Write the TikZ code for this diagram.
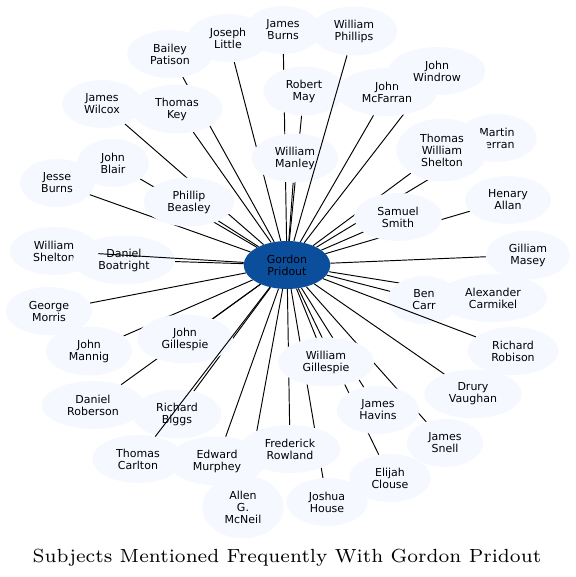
\documentclass[tikz,border=0pt]{standalone}
\usepackage{fontspec}
\usepackage{tikz}
\usetikzlibrary{shapes.geometric, backgrounds}
\newfontfamily\labelfont{DejaVu Sans}
\newfontfamily\titlefont{lmroman7-regular.otf}
\definecolor{hubblue}{RGB}{11,79,156}
\definecolor{paleblue}{RGB}{245,249,255}

\begin{document}
\begin{tikzpicture}[
        x=1pt, y=-1pt,
        person/.style={ellipse, fill=paleblue, align=center,
            font=\labelfont\fontsize{11}{12}\selectfont,
            inner xsep=10.5pt, inner ysep=6pt,
            minimum width=72pt, minimum height=48pt},
        hub/.style={person, fill=hubblue},
        link/.style={line width=0.95pt}
    ]
        \useasboundingbox (0,0) rectangle (575,577);
        \node[person] (jburns) at (283,30) {James\\Burns};
        \node[person] (wphillips) at (354,31) {William\\Phillips};
        \node[person] (jlittle) at (228,38) {Joseph\\Little};
        \node[person] (bpatison) at (170,54) {Bailey\\Patison};
        \node[person] (rmay) at (304,91) {Robert\\May};
        \node[person] (jmcfarran) at (387,92) {John\\McFarran};
        \node[person] (jwindrow) at (437,71) {John\\Windrow};
        \node[person] (jwilcox) at (102,104) {James\\Wilcox};
        \node[person] (tkey) at (177,109) {Thomas\\Key};
        \node[person] (mferran) at (497,138) {Martin\\Ferran};
        \node[person] (twshelton) at (442,150) {Thomas\\William\\Shelton};
        \node[person] (wmanley) at (295,158) {William\\Manley};
        \node[person] (jblair) at (113,163) {John\\Blair};
        \node[person] (jesburns) at (57,183) {Jesse\\Burns};
        \node[person] (pbeasley) at (189,202) {Phillip\\Beasley};
        \node[person] (hallan) at (508,200) {Henary\\Allan};
        \node[person] (ssmith) at (398,217) {Samuel\\Smith};
        \node[person] (wshelton) at (54,251) {William\\Shelton};
        \node[person] (dboatright) at (124,260) {Daniel\\Boatright};
        \node[person] (gmasey) at (528,255) {Gilliam\\Masey};
        \node[person] (acarmikel) at (493,298) {Alexander\\Carmikel};
        \node[person] (bcarr) at (424,300) {Ben\\Carr};
        \node[person] (gmorris) at (49,311) {George\\Morris};
        \node[person] (jgillespie) at (185,339) {John\\Gillespie};
        \node[person] (jmannig) at (89,351) {John\\Mannig};
        \node[person] (rrobison) at (513,351) {Richard\\Robison};
        \node[person] (wgillespie) at (326,362) {William\\Gillespie};
        \node[person] (dvaughan) at (473,394) {Drury\\Vaughan};
        \node[person] (droberson) at (93,405) {Daniel\\Roberson};
        \node[person] (rbiggs) at (177,414) {Richard\\Biggs};
        \node[person] (jhavins) at (378,410) {James\\Havins};
        \node[person] (jsnell) at (445,443) {James\\Snell};
        \node[person] (frowland) at (290,449) {Frederick\\Rowland};
        \node[person] (tcarlton) at (138,459) {Thomas\\Carlton};
        \node[person] (emurphey) at (217,461) {Edward\\Murphey};
        \node[person] (eclouse) at (390,478) {Elijah\\Clouse};
        \node[person] (jhouse) at (327,502) {Joshua\\House};
        \node[person] (amcneil) at (243,507) {Allen\\G.\\McNeil};
        \node[hub] (gordon) at (287,265) {Gordon\\Pridout};
        \node[anchor=base, font=\titlefont\fontsize{19}{22}\selectfont] (title) at (287,562)
            {Subjects Mentioned Frequently With Gordon Pridout};
\begin{scope}[on background layer]
        \path[link]
        (gordon) edge (jburns) edge (jlittle) edge (bpatison)
        edge (rmay) edge (jmcfarran) edge (jwindrow) edge (jwilcox)
        edge (tkey) edge (mferran) edge (twshelton) edge (wmanley)
        edge (jblair) edge (jesburns) edge (pbeasley) edge (hallan)
        edge (ssmith) edge (dboatright) edge (gmasey) edge (acarmikel)
        edge (bcarr) edge (gmorris) edge (jgillespie) edge (jmannig)
        edge (wgillespie) edge (dvaughan) edge (droberson) edge (rbiggs)
        edge (jhavins) edge (jsnell) edge (frowland) edge (emurphey)
        edge (eclouse) edge (jhouse) edge (amcneil);
\end{scope}
        % these run over the nodes they cross
        \path[link]
        (gordon) edge (wshelton) edge (wphillips) edge (tcarlton) edge (rrobison);
\end{tikzpicture}
\end{document}
